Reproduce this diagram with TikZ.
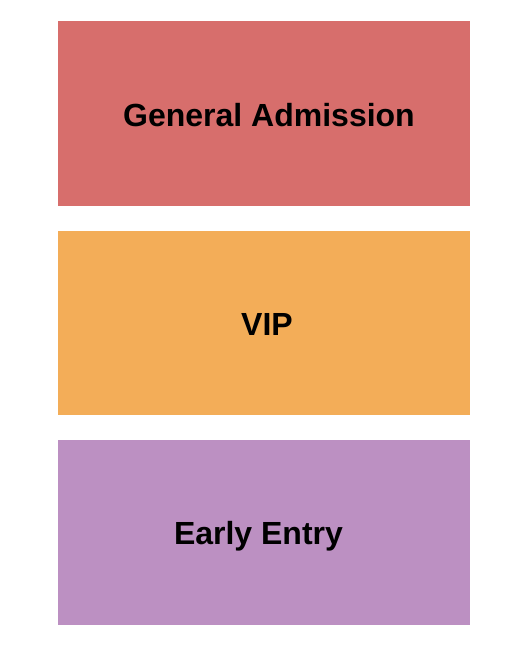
\documentclass[tikz,border=0pt]{standalone}
\usepackage{fontspec}
\setmainfont{Liberation Sans}
\definecolor{gared}{HTML}{D76E6C}
\definecolor{viporange}{HTML}{F3AD58}
\definecolor{eepurple}{HTML}{BC90C2}
\begin{document}
\begin{tikzpicture}[x=1pt,y=1pt,
  zone/.style={draw=none,inner sep=0pt,minimum width=412.5pt,minimum height=185pt,anchor=north west},
  zonelabel/.style={font=\fontsize{32}{36}\selectfont\bfseries,text=black,inner sep=0pt,anchor=base}]
\useasboundingbox[fill=white] (0,0) rectangle (525,-650);
\node[zone,fill=gared] (ga) at (57.5,-21) {};
\node[zone,fill=viporange,minimum height=184pt] (vip) at (57.5,-231) {};
\node[zone,fill=eepurple] (ee) at (57.5,-440) {};
\node[zonelabel] (galabel) at (269,-126) {General Admission};
\node[zonelabel] (viplabel) at (267,-335) {VIP};
\node[zonelabel] (eelabel) at (258.5,-544.5) {Early Entry};
\end{tikzpicture}
\end{document}
